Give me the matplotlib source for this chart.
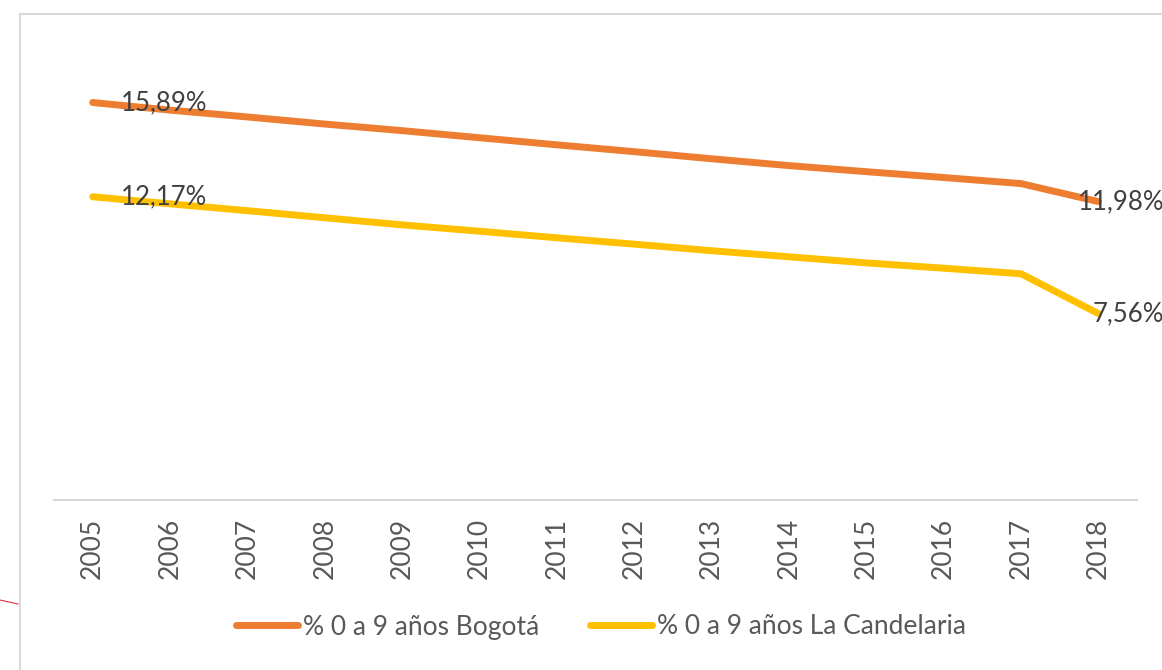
import numpy as np
import matplotlib
matplotlib.use("Agg")
from matplotlib import pyplot as plt
from matplotlib.lines import Line2D
from matplotlib.patches import Rectangle

plt.rcParams['font.family'] = ['Lato', 'DejaVu Sans']

years = ['2005', '2006', '2007', '2008', '2009', '2010', '2011',
         '2012', '2013', '2014', '2015', '2016', '2017', '2018']
bogota = [15.89, 15.59, 15.32, 15.04, 14.78, 14.50, 14.22,
          13.95, 13.67, 13.40, 13.16, 12.93, 12.69, 11.98]
candelaria = [12.17, 11.89, 11.62, 11.34, 11.06, 10.81, 10.55,
              10.30, 10.04, 9.80, 9.56, 9.35, 9.13, 7.56]
series_names = ['% 0 a 9 años Bogotá', '% 0 a 9 años La Candelaria']

W, H = 1162, 670
fig = plt.figure(figsize=(W / 100, H / 100), dpi=100)
ax = fig.add_axes([54 / W, (H - 500) / H, (1137 - 54) / W, 456 / H])

x = np.arange(len(years))
ax.plot(x, bogota, color='#ED7D31', lw=5, solid_capstyle='round',
        solid_joinstyle='round', label=series_names[0])
ax.plot(x, candelaria, color='#FFC000', lw=5, solid_capstyle='round',
        solid_joinstyle='round', label=series_names[1])

## data labels on first and last point
def fmt(v):
    return ('%.2f%%' % v).replace('.', ',')

for s in (bogota, candelaria):
    ax.annotate(fmt(s[0]), (x[0], s[0]), xytext=(28, 0), textcoords='offset pixels',
                ha='left', va='center', fontsize=18.5, color='#404040')
    ax.annotate(fmt(s[-1]), (x[-1], s[-1]), xytext=(66, 0), textcoords='offset pixels',
                ha='right', va='center', fontsize=18.5, color='#404040',
                annotation_clip=False)

ax.set_xlim(-0.5, len(years) - 0.5)
ax.set_ylim(0.2, 18.2)
ax.set_xticks(x)
ax.set_xticklabels(years, rotation=90, fontsize=19, color='#595959')
ax.set_yticks([])
ax.tick_params(axis='x', length=0, pad=13)
for sp in ['top', 'right', 'left']:
    ax.spines[sp].set_visible(False)
ax.spines['bottom'].set_color('#d9d9d9')
ax.spines['bottom'].set_linewidth(1.5)

handles = [Line2D([], [], color='#ED7D31', lw=5, solid_capstyle='round'),
           Line2D([], [], color='#FFC000', lw=5, solid_capstyle='round')]
leg = fig.legend(handles, series_names, loc='center', ncol=2, frameon=False,
                 bbox_to_anchor=(601 / W, (H - 627) / H), fontsize=19,
                 handlelength=2.35, handletextpad=0.2, columnspacing=1.9)
for t in leg.get_texts():
    t.set_color('#595959')

## chart frame (cropped on right and bottom)
fig.patches.append(Rectangle((19.5 / W, -0.1), 1.2, (H - 14) / H + 0.1,
                             transform=fig.transFigure, fill=False,
                             edgecolor='#d9d9d9', lw=1.5))
fig.lines.append(Line2D([0, 18 / W], [(H - 600) / H, (H - 604) / H],
                        transform=fig.transFigure, color='#e03040', lw=0.8))

fig.savefig('out.png', dpi=100)
